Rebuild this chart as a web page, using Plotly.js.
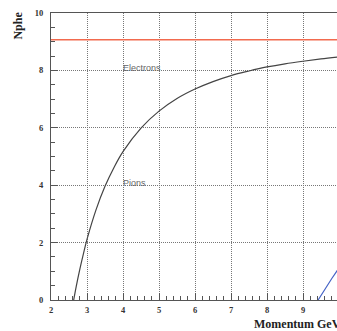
<!DOCTYPE html>
<html>
<head>
<meta charset="utf-8">
<script src="https://cdn.plot.ly/plotly-3.0.1.min.js"></script>
<style>
html,body{margin:0;padding:0;overflow:hidden;background:#fff;width:337px;height:331px;}
#chart{width:345px;height:331px;}
</style>
</head>
<body>
<div id="chart"></div>
<script>
// Values
var electronP = [2, 10];
var electronN = [9.07, 9.07];

var pionP = [2.63, 2.7, 2.8, 2.9, 3.0, 3.25, 3.5, 3.75, 4.0, 4.5, 5.0, 5.5, 6.0, 6.5, 7.0, 7.5, 8.0, 8.5, 9.0, 9.5, 10.0];
var pionN = [0, 0.47, 1.07, 1.61, 2.11, 3.14, 3.96, 4.62, 5.17, 5.99, 6.58, 7.02, 7.35, 7.61, 7.82, 7.98, 8.12, 8.23, 8.32, 8.40, 8.47];

var kaonP = [9.42, 9.6, 9.8, 10.0];
var kaonN = [0, 0.37, 0.75, 1.12];

var xTickVals = [2, 3, 4, 5, 6, 7, 8, 9];
var yTickVals = [0, 2, 4, 6, 8, 10];

var labelTexts = ["Electrons", "Pions"];
var labelX = [4.0, 4.0];
var labelY = [8.08, 4.08];

var xTitle = "Momentum GeV/c";
var yTitle = "Nphe";

var tickFont = {family: "Liberation Serif", size: 8.5, color: "#333", weight: "bold"};

var traces = [
  {x: electronP, y: electronN, mode: "lines", line: {color: "#f26a4e", width: 1.5}, hoverinfo: "none"},
  {x: pionP, y: pionN, mode: "lines", line: {color: "#444", width: 1.2, shape: "spline"}, hoverinfo: "none"},
  {x: kaonP, y: kaonN, mode: "lines", line: {color: "#4563c6", width: 1.2}, hoverinfo: "none"}
];

var annotations = [];
for (var i = 0; i < labelTexts.length; i++) {
  annotations.push({x: labelX[i], y: labelY[i], xref: "x", yref: "y", text: labelTexts[i],
    showarrow: false, xanchor: "left", yanchor: "middle", xshift: -2,
    font: {family: "Liberation Sans", size: 9, color: "#666"}});
}
annotations.push({x: 0.697, y: -0.084, xref: "paper", yref: "paper", text: xTitle, showarrow: false,
  xanchor: "left", yanchor: "middle", font: {family: "Liberation Serif", size: 12, color: "#222", weight: "bold"}});
annotations.push({x: -0.1146, y: 0.956, xref: "paper", yref: "paper", text: yTitle, showarrow: false, textangle: -90,
  xanchor: "center", yanchor: "middle", font: {family: "Liberation Serif", size: 12, color: "#222", weight: "bold"}});

var layout = {
  width: 345, height: 331,
  margin: {l: 51, r: 6, t: 13, b: 31},
  paper_bgcolor: "#fff", plot_bgcolor: "#fff",
  showlegend: false,
  xaxis: {
    range: [2, 10], tickvals: xTickVals, ticks: "inside", ticklen: 7, tickcolor: "#555",
    showline: true, linecolor: "#555", linewidth: 1, mirror: true,
    showgrid: true, gridcolor: "#777", griddash: "1px,1px", gridwidth: 1,
    zeroline: false, tickfont: tickFont, ticklabelstandoff: 2,
    minor: {dtick: 0.2, ticks: "inside", ticklen: 4, tickcolor: "#555", showgrid: false}
  },
  yaxis: {
    range: [0, 10], tickvals: yTickVals, ticks: "inside", ticklen: 7, tickcolor: "#555",
    showline: true, linecolor: "#555", linewidth: 1, mirror: true,
    showgrid: true, gridcolor: "#777", griddash: "1px,1px", gridwidth: 1,
    zeroline: false, tickfont: tickFont, ticklabelstandoff: 5,
    minor: {dtick: 0.5, ticks: "inside", ticklen: 4, tickcolor: "#555", showgrid: false}
  },
  annotations: annotations
};

Plotly.newPlot("chart", traces, layout, {staticPlot: true, displayModeBar: false});
</script>
</body>
</html>
